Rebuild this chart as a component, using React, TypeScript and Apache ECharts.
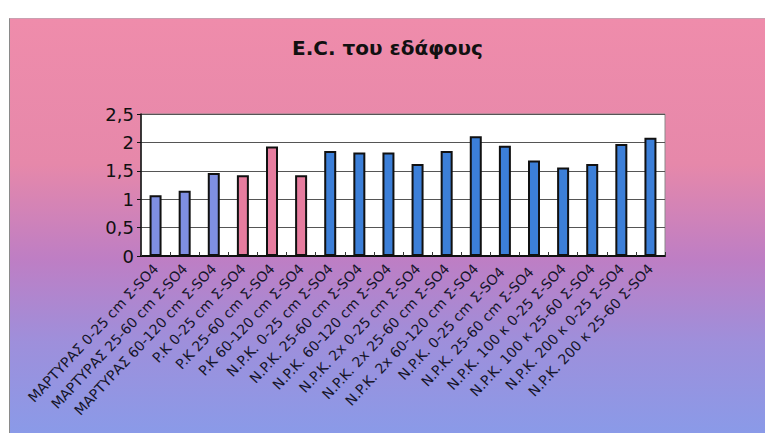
import React, { useEffect, useRef } from "react";
import * as echarts from "echarts";

// Soil samples (treatment, depth) shown on the category axis
const categories: string[] = [
  "ΜΑΡΤΥΡΑΣ 0-25 cm Σ-SO4",
  "ΜΑΡΤΥΡΑΣ 25-60 cm Σ-SO4",
  "ΜΑΡΤΥΡΑΣ 60-120 cm Σ-SO4",
  "P.K 0-25 cm Σ-SO4",
  "P.K 25-60 cm Σ-SO4",
  "P.K 60-120 cm Σ-SO4",
  "N.P.K. 0-25 cm Σ-SO4",
  "N.P.K. 25-60 cm Σ-SO4",
  "N.P.K. 60-120 cm Σ-SO4",
  "N.P.K. 2x 0-25 cm Σ-SO4",
  "N.P.K. 2x 25-60 cm Σ-SO4",
  "N.P.K. 2x 60-120 cm Σ-SO4",
  "N.P.K. 0-25 cm Σ-SO4 ",
  "N.P.K. 25-60 cm Σ-SO4 ",
  "N.P.K. 100 κ 0-25 Σ-SO4",
  "N.P.K. 100 κ 25-60 Σ-SO4",
  "N.P.K. 200 κ 0-25 Σ-SO4",
  "N.P.K. 200 κ 25-60 Σ-SO4",
];

// Electrical conductivity of the soil
const ecValues: number[] = [
  1.07, 1.15, 1.46, 1.42, 1.93, 1.42, 1.85, 1.82, 1.82, 1.62, 1.85, 2.11, 1.94,
  1.68, 1.56, 1.62, 1.97, 2.08,
];

// Treatment group of each sample: 0 = control, 1 = P.K., 2 = fertilised
const groups: number[] = [0, 0, 0, 1, 1, 1, 2, 2, 2, 2, 2, 2, 2, 2, 2, 2, 2, 2];
const groupColors: string[] = ["#7f8fe2", "#e67c9e", "#3c7fd8"];

const yTicks: number[] = [0, 0.5, 1, 1.5, 2, 2.5];

export default function App() {
  const ref = useRef<HTMLDivElement>(null);

  useEffect(() => {
    if (!ref.current) return;
    const chart = echarts.init(ref.current, null, { renderer: "svg" });
    chart.setOption({
      animation: false,
      backgroundColor: new echarts.graphic.LinearGradient(0, 0, 0, 1, [
        { offset: 0, color: "#ef8cab" },
        { offset: 0.35, color: "#e688aa" },
        { offset: 0.58, color: "#be7ec4" },
        { offset: 0.78, color: "#9e8fdb" },
        { offset: 1, color: "#8a9ae8" },
      ]),
      title: {
        text: "E.C. του εδάφους",
        left: "center",
        top: 14,
        textStyle: {
          fontFamily: "DejaVu Sans",
          fontWeight: "bold",
          fontSize: 20,
          color: "#111",
        },
      },
      grid: {
        left: 131,
        top: 95,
        right: 100,
        bottom: 177,
        show: true,
        backgroundColor: "#ffffff",
        borderColor: "#8a8a8a",
        borderWidth: 1,
      },
      xAxis: {
        type: "category",
        data: categories,
        axisLine: { lineStyle: { color: "#111", width: 2 } },
        axisTick: { show: true, inside: true, length: 4, lineStyle: { color: "#333" } },
        axisLabel: {
          interval: 0,
          rotate: 47,
          margin: 10,
          fontFamily: "DejaVu Sans",
          fontSize: 14,
          color: "#15152a",
        },
      },
      yAxis: {
        type: "value",
        min: yTicks[0],
        max: yTicks[yTicks.length - 1],
        interval: 0.5,
        axisLine: { show: true, lineStyle: { color: "#111", width: 1.5 } },
        axisTick: { show: true, length: 4, lineStyle: { color: "#111" } },
        axisLabel: {
          fontFamily: "DejaVu Sans",
          fontSize: 18,
          color: "#111",
          margin: 7,
          formatter: (v: number) => String(v).replace(".", ","),
        },
        splitLine: { lineStyle: { color: "#555", width: 1 } },
      },
      series: [
        {
          type: "bar",
          barWidth: 12,
          data: ecValues.map((v, i) => ({
            value: v,
            itemStyle: { color: groupColors[groups[i]] },
          })),
          itemStyle: { borderColor: "#111", borderWidth: 2 },
        },
      ],
    });
    return () => chart.dispose();
  }, []);

  return (
    <div
      style={{
        position: "fixed",
        left: 0,
        top: 0,
        width: 765,
        height: 433,
        background: "#ffffff",
      }}
    >
      <div
        ref={ref}
        style={{
          position: "absolute",
          left: 9,
          top: 18,
          width: 756,
          height: 415,
          borderLeft: "1px solid #8a8a8a",
          borderTop: "1px solid #c9a0b0",
          boxSizing: "border-box",
        }}
      />
    </div>
  );
}
